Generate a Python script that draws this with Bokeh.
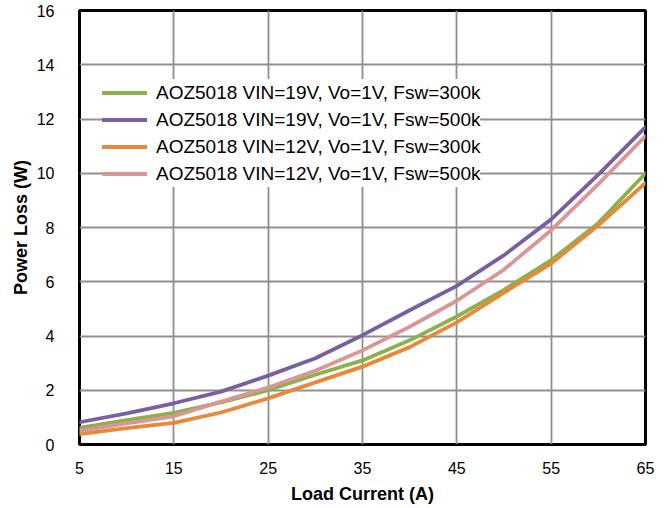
from bokeh.plotting import figure
from bokeh.models import Range1d, FixedTicker, Legend, LegendItem
from bokeh.embed import file_html
from bokeh.resources import INLINE

load_current = [5, 10, 15, 20, 25, 30, 35, 40, 45, 50, 55, 60, 65]
vin19_300k = [0.61, 0.90, 1.17, 1.55, 2.00, 2.57, 3.10, 3.84, 4.72, 5.70, 6.80, 8.16, 10.00]
vin19_500k = [0.82, 1.15, 1.52, 1.95, 2.54, 3.18, 4.03, 4.95, 5.85, 6.98, 8.30, 9.95, 11.70]
vin12_300k = [0.38, 0.60, 0.80, 1.18, 1.70, 2.29, 2.87, 3.59, 4.50, 5.60, 6.67, 8.08, 9.64]
vin12_500k = [0.50, 0.78, 1.04, 1.58, 2.10, 2.72, 3.47, 4.34, 5.30, 6.45, 7.90, 9.60, 11.37]

labels = [
    "AOZ5018 VIN=19V, Vo=1V, Fsw=300k",
    "AOZ5018 VIN=19V, Vo=1V, Fsw=500k",
    "AOZ5018 VIN=12V, Vo=1V, Fsw=300k",
    "AOZ5018 VIN=12V, Vo=1V, Fsw=500k",
]
series = [vin19_300k, vin19_500k, vin12_300k, vin12_500k]
colors = ["#8DB04B", "#7A5FA0", "#E8883A", "#D99694"]

x_ticks = [5, 15, 25, 35, 45, 55, 65]
x_grid = [15, 25, 35, 45, 55]
y_ticks = [0, 2, 4, 6, 8, 10, 12, 14, 16]

FONT = "Liberation Sans"

p = figure(width=668, height=508, output_backend="svg", toolbar_location=None,
           x_range=Range1d(5, 65), y_range=Range1d(0, 16),
           min_border_left=79, min_border_right=23, min_border_top=10, min_border_bottom=64)
p.background_fill_color = "white"
p.border_fill_color = "white"
p.outline_line_color = "black"
p.outline_line_width = 3

p.xaxis.ticker = FixedTicker(ticks=x_ticks)
p.yaxis.ticker = FixedTicker(ticks=y_ticks)
p.xgrid.ticker = FixedTicker(ticks=x_grid)
p.ygrid.ticker = FixedTicker(ticks=y_ticks[1:-1])
for g in (p.xgrid, p.ygrid):
    g.grid_line_color = "#8f8f8f"
    g.grid_line_width = 1.8

for ax in (p.xaxis, p.yaxis):
    ax.axis_line_color = None
    ax.major_tick_line_color = None
    ax.minor_tick_line_color = None
    ax.major_label_text_font = FONT
    ax.major_label_text_font_size = "16px"
    ax.major_label_text_color = "black"
    ax.axis_label_text_font = FONT
    ax.axis_label_text_font_size = "18px"
    ax.axis_label_text_font_style = "bold"
    ax.axis_label_text_color = "black"

p.xaxis.axis_label = "Load Current (A)"
p.yaxis.axis_label = "Power Loss (W)"
p.xaxis.major_label_standoff = 11
p.yaxis.major_label_standoff = 19
p.xaxis.axis_label_standoff = 7
p.yaxis.axis_label_standoff = 3

items = []
for lab, ys, c in zip(labels, series, colors):
    r = p.line(load_current, ys, line_color=c, line_width=3.8, line_cap="round", line_join="round")
    items.append(LegendItem(label=lab, renderers=[r]))

legend = Legend(items=items, location=(23, 257))
legend.label_text_font = FONT
legend.label_text_font_size = "19px"
legend.label_text_color = "black"
legend.glyph_width = 45
legend.glyph_height = 27
legend.label_height = 27
legend.label_standoff = 9
legend.spacing = 0
legend.padding = 6
legend.margin = 0
legend.border_line_color = None
legend.background_fill_color = "white"
legend.background_fill_alpha = 1.0
p.add_layout(legend, "center")

open("out.html", "w").write(file_html(p, INLINE))
